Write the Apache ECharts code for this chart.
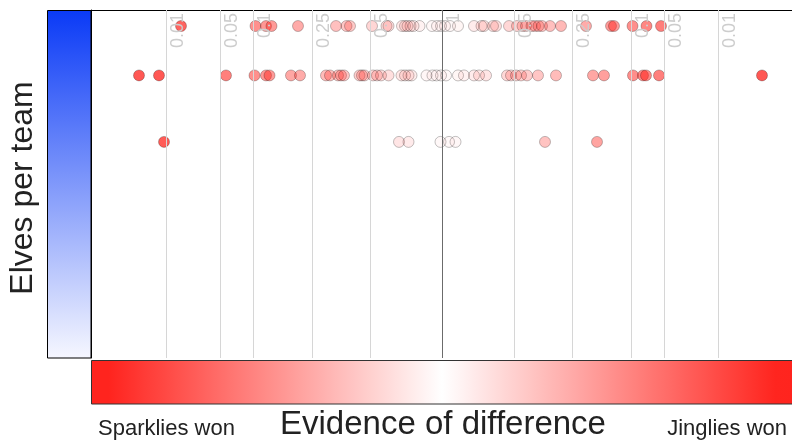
<!DOCTYPE html>
<html>
<head>
<meta charset="utf-8">
<script src="https://cdn.jsdelivr.net/npm/echarts@6/dist/echarts.min.js"></script>
<style>
  html, body { margin: 0; padding: 0; background: #fff; }
  #chart { width: 792px; height: 443px; }
</style>
</head>
<body>
<div id="chart"></div>
<script>
// Evidence scale: signed score, negative = Sparklies won, positive = Jinglies won.
// p-value reference levels and where they sit on the score scale.
const pLevels = ['0.5', '0.25', '0.1', '0.05', '0.01'];
const pLevelScores = [0.72, 1.30, 1.89, 2.22, 2.76];

// Team sizes (elves per team) for each row of results.
const teamSizes = [95.4, 81.2, 62.1];

// Evidence scores of individual matchups, one list per team size.
const scoresLarge = [
  -2.61, -1.865, -1.76, -1.705, -1.44, -1.06, -0.955, -0.92, -0.70, -0.555,
  -0.535, -0.40, -0.37, -0.345, -0.315, -0.285, -0.225, -0.10, -0.05, -0.01,
  0.03, 0.08, 0.16, 0.32, 0.395, 0.42, 0.51, 0.54, 0.67, 0.75,
  0.805, 0.84, 0.895, 0.93, 0.965, 1.00, 1.08, 1.19, 1.44, 1.69,
  1.72, 1.905, 2.045, 2.19
];
const scoresMedium = [
  -3.03, -2.83, -2.16, -1.875, -1.76, -1.725, -1.51, -1.42, -1.16, -1.12,
  -1.04, -1.01, -0.98, -0.825, -0.80, -0.775, -0.69, -0.65, -0.61, -0.535,
  -0.405, -0.37, -0.335, -0.305, -0.155, -0.095, -0.055, -0.01, 0.04, 0.16,
  0.22, 0.32, 0.37, 0.44, 0.65, 0.69, 0.74, 0.79, 0.85, 0.96,
  1.14, 1.51, 1.62, 1.91, 2.01, 2.04, 2.17, 3.20
];
const scoresSmall = [-2.78, -0.43, -0.335, -0.015, 0.07, 0.135, 1.03, 1.55];

const X_MIN = -3.51, X_MAX = 3.50;
const RED = [255, 36, 30];

// Strength of red grows with the size of the evidence score.
function strength(s) {
  return Math.min(1, 0.9 * Math.abs(s) / 3);
}
function fillFor(s) {
  const a = Math.min(0.95, Math.max(0.04, 1.12 * strength(s)));
  return 'rgba(' + RED[0] + ',' + RED[1] + ',' + RED[2] + ',' + a.toFixed(3) + ')';
}
function solidFor(s) {
  const a = strength(s);
  const c = RED.map(v => Math.round(255 - a * (255 - v)));
  return 'rgb(' + c.join(',') + ')';
}

function rowData(scores, size) {
  return scores.map(s => ({ value: [s, size], itemStyle: { color: fillFor(s) } }));
}

// Reference lines at each p level on both sides, plus the centre line.
const refLines = [];
pLevels.forEach((lab, i) => {
  [-1, 1].forEach(side => {
    refLines.push({ xAxis: side * pLevelScores[i], label: { formatter: lab } });
  });
});
refLines.push({
  xAxis: 0,
  label: { formatter: '1' },
  lineStyle: { color: '#6b6b6b', width: 1, type: 'solid' }
});

// Colour stops for the evidence legend bar.
const barStops = [];
for (let k = 0; k <= 40; k++) {
  const s = X_MIN + (X_MAX - X_MIN) * k / 40;
  barStops.push({ offset: k / 40, color: solidFor(s) });
}

const chart = echarts.init(document.getElementById('chart'));
const pointStyle = { borderColor: 'rgba(0,0,0,0.3)', borderWidth: 1 };

chart.setOption({
  animation: false,
  backgroundColor: '#ffffff',
  grid: { left: 91, top: 10, width: 701, height: 348, containLabel: false },
  xAxis: {
    type: 'value', position: 'top', min: X_MIN, max: X_MAX,
    axisLine: { show: true, onZero: false, lineStyle: { color: '#000', width: 1 } },
    axisTick: { show: false }, axisLabel: { show: false }, splitLine: { show: false }
  },
  yAxis: {
    type: 'value', min: 0, max: 100,
    axisLine: { show: true, onZero: false, lineStyle: { color: '#000', width: 1 } },
    axisTick: { show: false }, axisLabel: { show: false }, splitLine: { show: false }
  },
  series: [
    {
      type: 'scatter', data: [], z: 1, silent: true,
      markLine: {
        silent: true, symbol: ['none', 'none'], animation: false,
        lineStyle: { color: '#d6d6d6', width: 1, type: 'solid' },
        label: {
          show: true, position: 'insideEndBottom', color: '#cdcdcd',
          fontSize: 18, fontFamily: 'Liberation Sans, Arial, sans-serif', distance: 3
        },
        emphasis: { disabled: true },
        data: refLines
      }
    },
    { type: 'scatter', z: 3, symbolSize: 11, itemStyle: pointStyle, data: rowData(scoresLarge, teamSizes[0]) },
    { type: 'scatter', z: 3, symbolSize: 11, itemStyle: pointStyle, data: rowData(scoresMedium, teamSizes[1]) },
    { type: 'scatter', z: 3, symbolSize: 11, itemStyle: pointStyle, data: rowData(scoresSmall, teamSizes[2]) }
  ],
  graphic: [
    {
      type: 'rect', shape: { x: 47.5, y: 10.5, width: 43.5, height: 347.5 },
      style: {
        stroke: '#000', lineWidth: 1,
        fill: new echarts.graphic.LinearGradient(0, 0, 0, 1, [
          { offset: 0, color: '#0a3af6' },
          { offset: 1, color: '#f6f7ff' }
        ])
      }
    },
    {
      type: 'rect', shape: { x: 91.5, y: 360.5, width: 701, height: 43.5 },
      style: {
        stroke: '#333', lineWidth: 1,
        fill: new echarts.graphic.LinearGradient(0, 0, 1, 0, barStops)
      }
    },
    {
      type: 'text', x: 23, y: 188, rotation: Math.PI / 2,
      style: {
        text: 'Elves per team', fill: '#222', fontSize: 32,
        fontFamily: 'Liberation Sans, Arial, sans-serif',
        align: 'center', verticalAlign: 'middle'
      }
    },
    {
      type: 'text', x: 98, y: 429,
      style: {
        text: 'Sparklies won', fill: '#222', fontSize: 22,
        fontFamily: 'Liberation Sans, Arial, sans-serif',
        align: 'left', verticalAlign: 'middle'
      }
    },
    {
      type: 'text', x: 443, y: 425,
      style: {
        text: 'Evidence of difference', fill: '#222', fontSize: 33,
        fontFamily: 'Liberation Sans, Arial, sans-serif',
        align: 'center', verticalAlign: 'middle'
      }
    },
    {
      type: 'text', x: 787, y: 429,
      style: {
        text: 'Jinglies won', fill: '#222', fontSize: 22,
        fontFamily: 'Liberation Sans, Arial, sans-serif',
        align: 'right', verticalAlign: 'middle'
      }
    }
  ]
});
</script>
</body>
</html>
